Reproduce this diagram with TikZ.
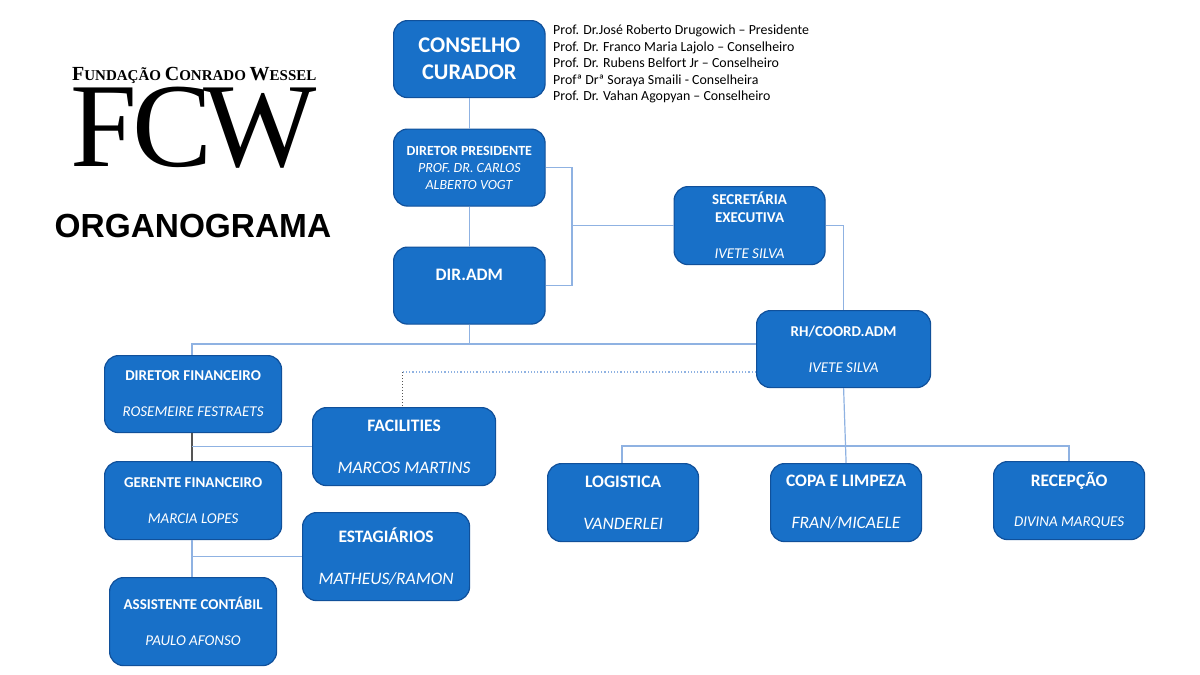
\documentclass[tikz,border=0pt]{standalone}
\usepackage{fontspec}
\setmainfont{Carlito}
\newfontfamily\logofont{Liberation Serif}
\newfontfamily\headfont{Liberation Sans}
\usetikzlibrary{calc}
\definecolor{boxblue}{HTML}{1870C8}
\definecolor{boxedge}{HTML}{10509A}
\definecolor{linkblue}{HTML}{8FB2E2}
\definecolor{dotgray}{HTML}{555555}
\newcommand{\fsize}[1]{\fontsize{#1}{#1}\selectfont}
\tikzset{
  orgbox/.style={draw=boxedge, line width=1.2pt, fill=boxblue, rounded corners=14pt,
    text=white, align=center, inner sep=0pt, anchor=north west},
  link/.style={draw=linkblue, line width=1.2pt},
}
\begin{document}
\begin{tikzpicture}[x=1pt,y=-1pt]
      \useasboundingbox (0,0) rectangle (1200,675);
      % logo and heading
      \node[inner sep=0pt,anchor=base west] (logoname) at (72,80) {\logofont\bfseries\fsize{20}F\fsize{15}UNDAÇÃO \fsize{20}C\fsize{15}ONRADO \fsize{20}W\fsize{15}ESSEL};
      \node[inner sep=0pt,anchor=base west] (logo) at (70,166) {\logofont\fsize{120}F\kern-4pt C\kern-10pt W};
      \node[inner sep=0pt,anchor=base west] (heading) at (54.5,237) {\headfont\bfseries\fsize{33.4}ORGANOGRAMA};
      % board members
      \node[inner sep=0pt,anchor=north west,align=left,font=\fontsize{13.9}{16.5}\selectfont] (board) at (553,25) {Prof. Dr.José Roberto Drugowich – Presidente\\Prof. Dr. Franco Maria Lajolo – Conselheiro\\Prof. Dr. Rubens Belfort Jr – Conselheiro\\Profª Drª Soraya Smaili - Conselheira\\Prof. Dr. Vahan Agopyan – Conselheiro};
      % boxes
      \node[orgbox,minimum width=151.5pt,minimum height=77pt,font=\bfseries\fontsize{22.4}{27}\selectfont] (conselho) at (393,20) {CONSELHO\\CURADOR};
      \node[orgbox,minimum width=151.5pt,minimum height=77pt,font=\fontsize{14}{17}\selectfont] (presidente) at (393,128.5) {\textbf{DIRETOR PRESIDENTE}\\\textit{PROF. DR. CARLOS}\\\textit{ALBERTO VOGT}};
      \node[orgbox,minimum width=151.5pt,minimum height=77pt,font=\bfseries\fontsize{17.5}{22}\selectfont] (diradm) at (393,246.5) {DIR.ADM\\[0pt]~};
      \node[orgbox,minimum width=151pt,minimum height=78pt,font=\fontsize{15}{18}\selectfont] (secretaria) at (673.5,186) {\textbf{SECRETÁRIA}\\\textbf{EXECUTIVA}\\[18pt]\textit{IVETE SILVA}};
      \node[orgbox,minimum width=174pt,minimum height=77pt,font=\fontsize{15}{18}\selectfont] (rh) at (756,310) {\textbf{RH/COORD.ADM}\\[18pt]\textit{IVETE SILVA}};
      \node[orgbox,minimum width=177pt,minimum height=77pt,font=\fontsize{15}{18}\selectfont] (dirfin) at (104,355) {\textbf{DIRETOR FINANCEIRO}\\[18pt]\textit{ROSEMEIRE FESTRAETS}};
      \node[orgbox,minimum width=183pt,minimum height=78pt,font=\fontsize{17.5}{20}\selectfont] (facilities) at (312,407) {\textbf{FACILITIES}\\[22pt]\textit{MARCOS MARTINS}};
      \node[orgbox,minimum width=177pt,minimum height=78pt,font=\fontsize{15}{18}\selectfont] (gerente) at (104,461) {\textbf{GERENTE FINANCEIRO}\\[18pt]\textit{MARCIA LOPES}};
      \node[orgbox,minimum width=167pt,minimum height=88pt,font=\fontsize{17.5}{20}\selectfont] (estagiarios) at (302,512) {\textbf{ESTAGIÁRIOS}\\[22pt]\textit{MATHEUS/RAMON}};
      \node[orgbox,minimum width=167pt,minimum height=88pt,font=\fontsize{15}{18}\selectfont] (assistente) at (109,577) {\textbf{ASSISTENTE CONTÁBIL}\\[18pt]\textit{PAULO AFONSO}};
      \node[orgbox,minimum width=151pt,minimum height=78pt,font=\fontsize{17.5}{20}\selectfont] (logistica) at (547,463) {\textbf{LOGISTICA}\\[22pt]\textit{VANDERLEI}};
      \node[orgbox,minimum width=151pt,minimum height=78pt,font=\fontsize{17.5}{20}\selectfont] (copa) at (770,463) {\textbf{COPA E LIMPEZA}\\[22pt]\textit{FRAN/MICAELE}};
      \node[orgbox,minimum width=151pt,minimum height=78pt,font=\fontsize{17.5}{20}\selectfont] (recepcao) at (993,461) {\textbf{RECEPÇÃO}\\[20pt]{\fontsize{15}{20}\selectfont\textit{DIVINA MARQUES}}};
      % junctions
      \coordinate (presbus) at (572,167);
      \coordinate (admbus) at (192,344);
      \coordinate (dotcorner) at (402,372);
      \coordinate (servleft) at (622,446);
      \coordinate (servright) at (1069,446);
      % upper links
      \draw[link] (conselho) -- (presidente);
      \draw[link] (presidente) -- (diradm);
      \draw[link] (presidente.east) -- (presidente.east -| presbus) -- (diradm.east -| presbus) -- (diradm.east);
      \draw[link] (secretaria.west -| presbus) -- (secretaria.west);
      \draw[link] (secretaria.east) -- (secretaria.east -| rh.north) -- (rh.north);
      % administration line
      \draw[link] (diradm.south) -- (diradm.south |- admbus);
      \draw[link] (rh.west |- admbus) -- (admbus) -- (admbus |- dirfin.north);
      % dotted link to facilities
      \draw[draw=linkblue,line width=1.2pt,dotted] (rh.west |- dotcorner) -- (dotcorner);
      \draw[draw=dotgray,line width=1pt,dotted] (dotcorner) -- (facilities.north -| dotcorner);
      % finance column
      \draw[draw=dotgray,line width=1.2pt] (admbus |- dirfin.south) -- (admbus |- gerente.north);
      \draw[link] (facilities.west) -- (facilities.west -| admbus);
      \draw[link] (admbus |- gerente.south) -- (admbus |- assistente.north);
      \draw[link] (estagiarios.west) -- (estagiarios.west -| admbus);
      % services
      \draw[link] (rh.south) -- (copa.north);
      \draw[link] (logistica.north -| servleft) -- (servleft) -- (servright) -- (recepcao.north -| servright);
\end{tikzpicture}
\end{document}
